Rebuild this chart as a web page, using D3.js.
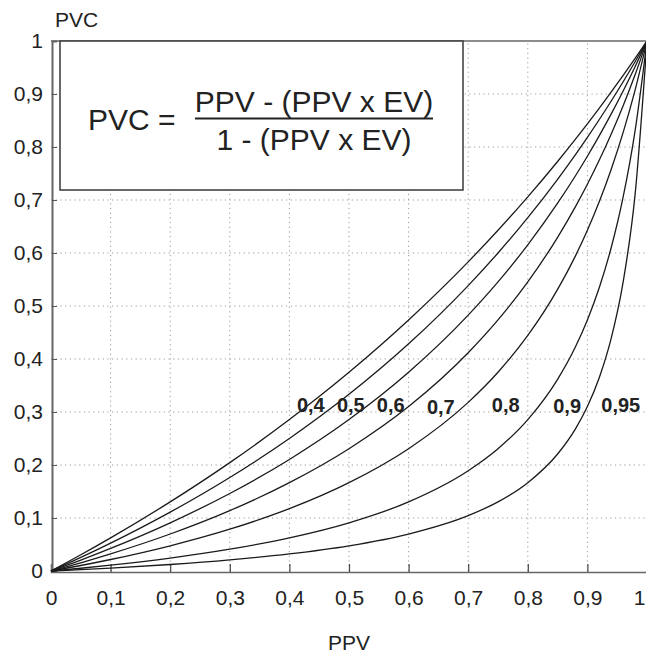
<!DOCTYPE html>
<html>
<head>
<meta charset="utf-8">
<script src="https://cdn.jsdelivr.net/npm/d3@7"></script>
<style>
  html, body { margin: 0; padding: 0; background: #fff; }
  svg { display: block; font-family: "Liberation Sans", Arial, Helvetica, sans-serif; }
</style>
</head>
<body>
<svg id="chart" width="646" height="656"></svg>
<script>
// PPV sample positions shared by every curve
const ppv = [0, 0.05, 0.1, 0.2, 0.3, 0.4, 0.5, 0.6, 0.7, 0.75, 0.8, 0.85, 0.88, 0.9, 0.92, 0.94, 0.96, 0.98, 1];

// PVC values for each EV level, one array per curve
const pvc040 = [0, 0.0306, 0.0625, 0.1304, 0.2045, 0.2857, 0.3750, 0.4737, 0.5833, 0.6429, 0.7059, 0.7727, 0.8148, 0.8438, 0.8734, 0.9038, 0.9351, 0.9671, 1];
const pvc050 = [0, 0.0256, 0.0526, 0.1111, 0.1765, 0.2500, 0.3333, 0.4286, 0.5385, 0.6000, 0.6667, 0.7391, 0.7857, 0.8182, 0.8519, 0.8868, 0.9231, 0.9608, 1];
const pvc060 = [0, 0.0206, 0.0426, 0.0909, 0.1463, 0.2105, 0.2857, 0.3750, 0.4828, 0.5455, 0.6154, 0.6939, 0.7458, 0.7826, 0.8214, 0.8624, 0.9057, 0.9515, 1];
const pvc070 = [0, 0.0155, 0.0323, 0.0698, 0.1139, 0.1667, 0.2308, 0.3103, 0.4118, 0.4737, 0.5455, 0.6296, 0.6875, 0.7297, 0.7753, 0.8246, 0.8780, 0.9363, 1];
const pvc080 = [0, 0.0104, 0.0217, 0.0476, 0.0789, 0.1176, 0.1667, 0.2308, 0.3182, 0.3750, 0.4444, 0.5313, 0.5946, 0.6429, 0.6970, 0.7581, 0.8276, 0.9074, 1];
const pvc090 = [0, 0.0052, 0.0110, 0.0244, 0.0411, 0.0625, 0.0909, 0.1304, 0.1892, 0.2308, 0.2857, 0.3617, 0.4231, 0.4737, 0.5349, 0.6104, 0.7059, 0.8305, 1];
const pvc095 = [0, 0.0026, 0.0055, 0.0123, 0.0210, 0.0323, 0.0476, 0.0698, 0.1045, 0.1304, 0.1667, 0.2208, 0.2683, 0.3103, 0.3651, 0.4393, 0.5455, 0.7101, 1];

// curve labels (EV) and where each one sits (PPV, PVC)
const evLabels = ["0,4", "0,5", "0,6", "0,7", "0,8", "0,9", "0,95"];
const labelPpv = [0.436, 0.503, 0.570, 0.654, 0.763, 0.866, 0.956];
const labelPvc = [0.30, 0.30, 0.30, 0.297, 0.30, 0.298, 0.30];

const tickValues = [0, 0.1, 0.2, 0.3, 0.4, 0.5, 0.6, 0.7, 0.8, 0.9, 1];
const gridValues = [0.1, 0.2, 0.3, 0.4, 0.5, 0.6, 0.7, 0.8, 0.9];

const series = [pvc040, pvc050, pvc060, pvc070, pvc080, pvc090, pvc095];

const svg = d3.select("#chart");
const x = d3.scaleLinear().domain([0, 1]).range([51, 647]);
const y = d3.scaleLinear().domain([0, 1]).range([571, 41]);
const fmt = d => String(d).replace(".", ",");

// dotted grid
const grid = svg.append("g").attr("stroke", "#9a9a9a").attr("stroke-width", 1)
  .attr("stroke-dasharray", "1.2,3.5");
grid.selectAll("line.v").data(gridValues).join("line")
  .attr("x1", d => x(d)).attr("x2", d => x(d))
  .attr("y1", y(0)).attr("y2", y(1));
grid.selectAll("line.h").data(gridValues).join("line")
  .attr("y1", d => y(d)).attr("y2", d => y(d))
  .attr("x1", x(0)).attr("x2", x(1));

// top frame line
svg.append("line")
  .attr("x1", x(0)).attr("x2", x(1)).attr("y1", y(1)).attr("y2", y(1))
  .attr("stroke", "#666").attr("stroke-width", 1.6);

// formula box
const box = svg.append("g");
box.append("rect")
  .attr("x", 60).attr("y", 41).attr("width", 403).attr("height", 149)
  .attr("fill", "#fff").attr("stroke", "#444").attr("stroke-width", 1.6);
box.append("text").attr("x", 88).attr("y", 130)
  .attr("font-size", 30).attr("fill", "#222").text("PVC =");
box.append("text").attr("x", 314).attr("y", 112).attr("text-anchor", "middle")
  .attr("font-size", 30).attr("fill", "#222").text("PPV - (PPV x EV)");
box.append("line").attr("x1", 195).attr("x2", 433).attr("y1", 118.5).attr("y2", 118.5)
  .attr("stroke", "#222").attr("stroke-width", 2);
box.append("text").attr("x", 314).attr("y", 150).attr("text-anchor", "middle")
  .attr("font-size", 30).attr("fill", "#222").text("1 - (PPV x EV)");

// axes
const xAxis = d3.axisBottom(x).tickValues(tickValues).tickFormat(fmt)
  .tickSize(-8).tickPadding(18);
const gx = svg.append("g").attr("transform", `translate(0,${y(0) + 1})`).call(xAxis);
gx.select(".domain").attr("stroke", "#666").attr("stroke-width", 1.6);
gx.selectAll(".tick line").attr("stroke", "#444").attr("stroke-width", 1.2);
gx.selectAll(".tick").filter(d => d === 0 || d === 1).select("line").remove();
gx.selectAll("text").attr("font-size", 21).attr("fill", "#222")
  .attr("font-family", "'Liberation Sans', Arial, sans-serif");
// keep the last label inside the drawing edge
gx.selectAll(".tick").filter(d => d === 1).select("text")
  .attr("text-anchor", "end").attr("x", -2);

const yAxis = d3.axisLeft(y).tickValues(tickValues).tickFormat(fmt)
  .tickSize(-5).tickPadding(9);
const gy = svg.append("g").attr("transform", `translate(${x(0) + 1},0)`).call(yAxis);
gy.select(".domain").attr("stroke", "#666").attr("stroke-width", 2);
gy.selectAll(".tick line").attr("stroke", "#555").attr("stroke-width", 1);
gy.selectAll(".tick").filter(d => d === 0 || d === 1).select("line").remove();
gy.selectAll("text").attr("font-size", 21).attr("fill", "#222")
  .attr("font-family", "'Liberation Sans', Arial, sans-serif");

// axis titles
svg.append("text").attr("x", 55).attr("y", 27)
  .attr("font-size", 21).attr("fill", "#222").text("PVC");
svg.append("text").attr("x", 349).attr("y", 650).attr("text-anchor", "middle")
  .attr("font-size", 21).attr("fill", "#222").text("PPV");

// curves
const line = d3.line()
  .x((d, i) => x(ppv[i]))
  .y(d => y(d))
  .curve(d3.curveMonotoneX);
svg.append("g").selectAll("path").data(series).join("path")
  .attr("d", d => line(d))
  .attr("fill", "none").attr("stroke", "#1a1a1a").attr("stroke-width", 1.3);

// curve labels
svg.append("g").selectAll("text").data(evLabels).join("text")
  .attr("x", (d, i) => x(labelPpv[i]))
  .attr("y", (d, i) => y(labelPvc[i]))
  .attr("text-anchor", "middle")
  .attr("font-size", 20).attr("font-weight", "bold").attr("fill", "#222")
  .text(d => d);
</script>
</body>
</html>
